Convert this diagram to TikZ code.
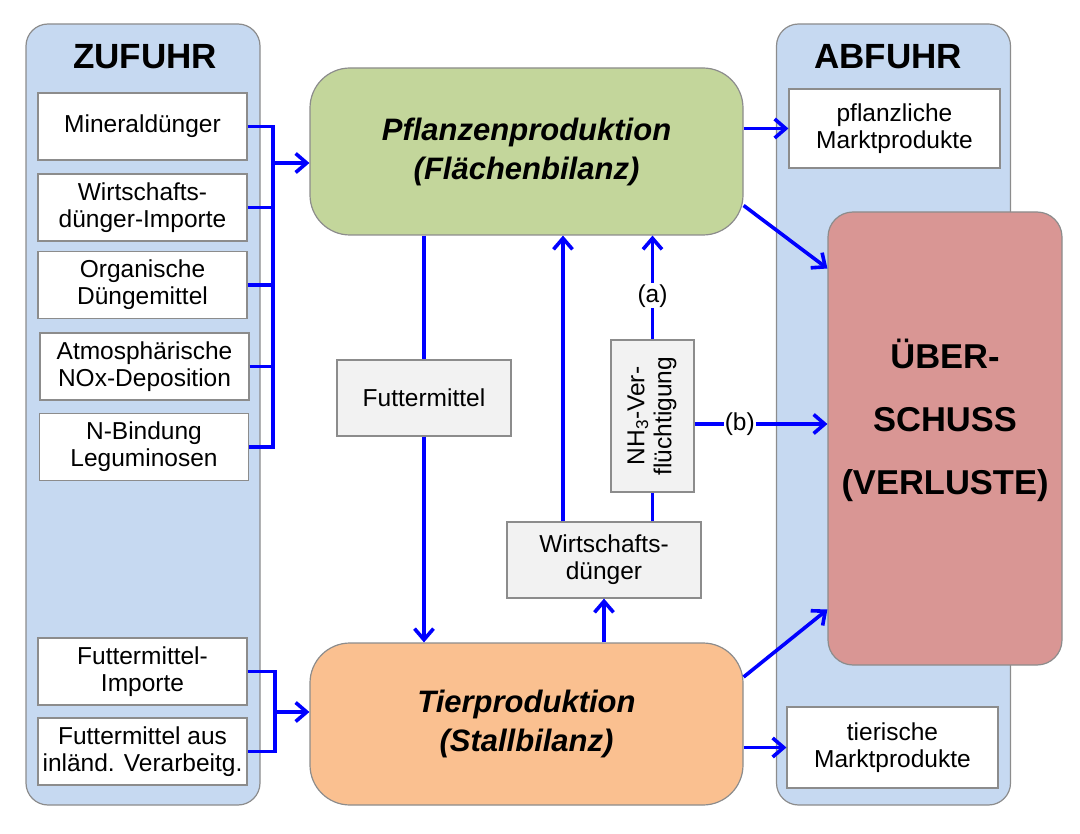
\documentclass[tikz,border=0pt]{standalone}
\usepackage{fontspec}
\setmainfont{Liberation Sans}
\usetikzlibrary{arrows.meta, positioning}
\usepackage{xcolor}
\definecolor{panelblue}{HTML}{C6D9F1}
\definecolor{pflgreen}{HTML}{C3D69B}
\definecolor{tierorange}{HTML}{FAC090}
\definecolor{uebred}{HTML}{D99694}
\definecolor{boxgrey}{HTML}{F2F2F2}
\definecolor{rimgrey}{HTML}{8C8C8C}

\begin{document}
\begin{tikzpicture}[x=1pt, y=-1pt]
    \tikzstyle{panel}=[draw=rimgrey, fill=panelblue, rounded corners=22pt, line width=1.2pt, minimum width=234pt, minimum height=781pt]
    \tikzstyle{item}=[draw=rimgrey, fill=white, line width=1.2pt, minimum width=209pt, minimum height=67pt, align=center, inner sep=0pt, font=\fontsize{24.5}{27}\selectfont]
    \tikzstyle{inner item}=[item, fill=boxgrey]
    \tikzstyle{stage}=[draw=rimgrey, line width=1.2pt, rounded corners=40pt, minimum width=433pt, align=center, font=\fontsize{31}{39}\selectfont\bfseries\itshape]
    \tikzstyle{title}=[font=\fontsize{35}{40}\selectfont\bfseries]
    \tikzstyle{link}=[draw=blue, line width=3.6pt]
    \tikzstyle{flow}=[link, -{Straight Barb[length=11pt,width=19pt]}]
    \tikzstyle{tag}=[fill=white, inner sep=1pt, font=\fontsize{24.5}{27}\selectfont]

    \useasboundingbox (0,0) rectangle (1080,834);

    % Draw the two side columns
    \node[panel] (zuf) at (143,414.5) {};
    \node[title] (zuf-t) at (145,57) {ZUFUHR};
    \node[panel] (abf) at (893.5,414.5) {};
    \node[title] (abf-t) at (888,57) {ABFUHR};

    % Inputs on the left
    \node[item] (min) at (142.5,126.5) {Mineraldünger};
    \node[item] (wirt) at (142.5,207.5) {Wirtschafts-\\dünger-Importe};
    \node[item] (org) at (142.5,285) {Organische\\Düngemittel};
    \node[item] (atm) at (144.5,366.5) {Atmosphärische\\NOx-Deposition};
    \node[item] (nbd) at (144,447) {N-Bindung\\Leguminosen};
    \node[item] (fmi) at (142.5,671.5) {Futtermittel-\\Importe};
    \node[item] (fmv) at (142.5,751.5) {Futtermittel aus\\inländ. Verarbeitg.};

    % The two production stages
    \node[stage, fill=pflgreen, minimum height=167pt] (pfl) at (526.5,151.5) {Pflanzenproduktion\\(Flächenbilanz)};
    \node[stage, fill=tierorange, minimum height=162pt] (tier) at (526.5,724) {Tierproduktion\\(Stallbilanz)};

    % Outputs on the right
    \node[item, minimum width=211pt, minimum height=79pt] (pmp) at (894.5,128.5) {pflanzliche\\Marktprodukte};
    \node[item, minimum width=211pt, minimum height=81pt] (tmp) at (892.5,747.5) {tierische\\Marktprodukte};
    \node[draw=rimgrey, fill=uebred, line width=1.2pt, rounded corners=25pt, minimum width=234pt, minimum height=453pt,
        label={[align=center, font=\fontsize{34.5}{63}\selectfont\bfseries, yshift=18pt]center:ÜBER-\\SCHUSS\\(VERLUSTE)}] (ueb) at (945,438.5) {};

    % Internal flows
    \node[inner item, minimum width=174pt, minimum height=76pt] (fm) at (424,398) {Futtermittel};
    \node[inner item, minimum width=194pt, minimum height=76pt] (wd) at (604,560) {Wirtschafts-\\dünger};
    \node[inner item, minimum width=83pt, minimum height=152pt] (nh3) at (652.5,416)
        {\rotatebox{90}{\begin{tabular}{@{}c@{}}NH\textsubscript{3}-Ver-\\flüchtigung\end{tabular}}};

    % Collect the inputs
    \coordinate (busA) at (273,163);
    \draw[link] (min.east) -| (busA) |- (nbd.east);
    \foreach \src in {wirt,org,atm}
        \draw[link] (\src.east) -- (\src.east -| busA);
    \draw[flow] (busA) -- (busA -| pfl.west);

    \coordinate (busB) at (275,712);
    \draw[link] (fmi.east) -| (busB) |- (fmv.east);
    \draw[flow] (busB) -- (busB -| tier.west);

    % Plant production
    \draw[flow] (pmp.west -| pfl.east) -- (pmp.west);
    \draw[flow] ([yshift=-54pt]pfl.east) -- ([yshift=170pt]ueb.west);
    \draw[link] (fm.north |- pfl.south) -- (fm.north);
    \draw[flow] (fm.south) -- (fm.south |- tier.north);

    % Manure and ammonia
    \draw[flow] ([xshift=-41pt]wd.north) -- ([xshift=-41pt]wd.north |- pfl.south);
    \draw[link] (wd.north -| nh3.south) -- (nh3.south);
    \draw[flow] (nh3.north) -- node[tag, pos=0.42] {(a)} (nh3.north |- pfl.south);
    \draw[flow] ([yshift=-8pt]nh3.east) -- node[tag, pos=0.34] {(b)} ([yshift=-8pt]nh3.east -| ueb.west);

    % Animal production
    \draw[flow] (wd.south |- tier.north) -- (wd.south);
    \draw[flow] ([yshift=47pt]tier.east) -- ([yshift=-171pt]ueb.west);
    \draw[flow] (tmp.west -| tier.east) -- (tmp.west);
\end{tikzpicture}
\end{document}
